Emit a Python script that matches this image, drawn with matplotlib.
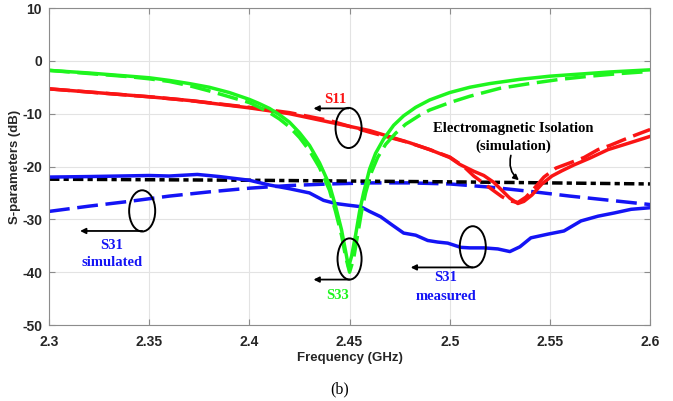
import numpy as np
import matplotlib
matplotlib.use("Agg")
from matplotlib import pyplot as plt
from matplotlib.patches import Ellipse

plt.rcParams['axes.unicode_minus'] = False

# S33 (green)
s33_meas_f = [2.30, 2.32, 2.34, 2.35, 2.36, 2.37, 2.38, 2.39, 2.40, 2.405, 2.41, 2.415, 2.42, 2.425, 2.43, 2.435, 2.44, 2.443, 2.446, 2.448, 2.4495, 2.451, 2.453, 2.455, 2.457, 2.46, 2.463, 2.467, 2.472, 2.477, 2.483, 2.49, 2.50, 2.51, 2.52, 2.535, 2.55, 2.565, 2.58, 2.59, 2.60]
s33_meas = [-1.8, -2.3, -2.9, -3.2, -3.7, -4.3, -5.0, -6.0, -7.3, -8.1, -9.0, -10.2, -11.6, -13.6, -16.0, -19.3, -23.5, -27.5, -32.0, -36.0, -39.0, -37.0, -33.0, -28.5, -25.0, -20.5, -17.5, -14.8, -12.2, -10.4, -8.8, -7.4, -6.0, -5.0, -4.3, -3.5, -2.9, -2.5, -2.1, -1.9, -1.7]
s33_sim_f = [2.30, 2.32, 2.34, 2.35, 2.36, 2.37, 2.38, 2.39, 2.40, 2.405, 2.41, 2.415, 2.42, 2.425, 2.43, 2.435, 2.44, 2.443, 2.446, 2.448, 2.450, 2.452, 2.454, 2.456, 2.458, 2.461, 2.464, 2.468, 2.473, 2.478, 2.485, 2.49, 2.50, 2.51, 2.525, 2.54, 2.555, 2.57, 2.585, 2.60]
s33_sim = [-1.8, -2.4, -3.0, -3.4, -3.9, -4.7, -5.7, -6.8, -7.9, -8.8, -9.8, -11.0, -12.5, -14.5, -17.0, -20.2, -24.5, -28.5, -33.0, -37.0, -40.0, -37.5, -33.0, -28.5, -25.0, -21.0, -18.3, -15.8, -13.7, -12.0, -10.3, -9.3, -7.9, -6.7, -5.2, -4.3, -3.5, -2.9, -2.4, -2.0]

# S11 (red)
s11_meas_f = [2.30, 2.33, 2.35, 2.37, 2.40, 2.42, 2.44, 2.46, 2.48, 2.49, 2.50, 2.505, 2.512, 2.517, 2.522, 2.526, 2.530, 2.534, 2.537, 2.541, 2.546, 2.551, 2.556, 2.562, 2.57, 2.579, 2.59, 2.60]
s11_meas = [-5.3, -6.2, -6.8, -7.5, -8.9, -10.0, -11.6, -13.2, -15.5, -16.8, -18.3, -19.6, -20.9, -21.7, -23.0, -24.5, -26.0, -27.0, -26.6, -25.4, -23.3, -21.8, -20.8, -19.7, -18.4, -16.8, -15.5, -14.3]
s11_sim_f = [2.30, 2.33, 2.35, 2.37, 2.40, 2.42, 2.44, 2.46, 2.479, 2.49, 2.50, 2.507, 2.512, 2.517, 2.522, 2.526, 2.530, 2.534, 2.538, 2.542, 2.547, 2.553, 2.56, 2.567, 2.574, 2.58, 2.587, 2.593, 2.60]
s11_sim = [-5.3, -6.2, -6.8, -7.5, -8.8, -9.8, -11.3, -13.5, -15.4, -16.8, -18.2, -20.0, -21.8, -23.2, -24.6, -25.7, -26.5, -26.8, -25.8, -24.2, -22.0, -20.3, -19.3, -18.3, -16.8, -16.0, -14.9, -14.0, -13.0]

# S31 (blue)
s31_meas_f = [2.30, 2.32, 2.335, 2.35, 2.36, 2.374, 2.385, 2.40, 2.41, 2.42, 2.43, 2.437, 2.443, 2.449, 2.4555, 2.46, 2.4655, 2.471, 2.477, 2.483, 2.489, 2.494, 2.499, 2.5055, 2.51, 2.517, 2.524, 2.530, 2.535, 2.5405, 2.549, 2.557, 2.5655, 2.574, 2.582, 2.5905, 2.60]
s31_meas = [-22.0, -21.9, -21.8, -21.7, -21.8, -21.5, -21.9, -22.6, -23.5, -24.2, -25.0, -26.4, -27.0, -27.3, -27.6, -28.5, -29.5, -31.0, -32.6, -33.0, -34.0, -34.3, -34.5, -35.3, -35.4, -35.4, -35.6, -36.1, -35.2, -33.5, -32.8, -32.2, -30.3, -29.4, -28.8, -28.1, -27.8]
s31_sim_f = [2.30, 2.32, 2.34, 2.36, 2.38, 2.40, 2.42, 2.44, 2.46, 2.48, 2.50, 2.52, 2.54, 2.56, 2.58, 2.60]
s31_sim = [-28.5, -27.5, -26.6, -25.6, -24.8, -24.1, -23.6, -23.3, -23.1, -23.1, -23.3, -23.9, -24.7, -25.6, -26.4, -27.2]

# electromagnetic isolation (black)
iso_f = [2.30, 2.40, 2.50, 2.60]
iso = [-22.4, -22.6, -22.9, -23.3]

green = "#1ef51e"
red = "#fa1414"
blue = "#1414f5"
lw = 2.5
dash = (0, (6.0, 2.2))
dashdot = (0, (3.0, 1.2, 1.5, 1.2))

fig = plt.figure(figsize=(6.73, 4.01), dpi=100)
ax = fig.add_axes([0.0728, 0.1895, 0.8932, 0.7905])

ax.plot(s31_sim_f, s31_sim, color=blue, lw=lw, linestyle=dash)
ax.plot(iso_f, iso, color="black", lw=lw, linestyle=dashdot)
ax.plot(s31_meas_f, s31_meas, color=blue, lw=lw, solid_joinstyle="round")
ax.plot(s11_sim_f, s11_sim, color=red, lw=lw, linestyle=dash)
ax.plot(s11_meas_f, s11_meas, color=red, lw=lw, solid_joinstyle="round")
ax.plot(s33_sim_f, s33_sim, color=green, lw=lw, linestyle=dash)
ax.plot(s33_meas_f, s33_meas, color=green, lw=lw, solid_joinstyle="round")

ax.set_xlim(2.3, 2.6)
ax.set_ylim(-50, 10)
ax.set_xticks([2.3, 2.35, 2.4, 2.45, 2.5, 2.55, 2.6])
ax.set_xticklabels(["2.3", "2.35", "2.4", "2.45", "2.5", "2.55", "2.6"])
ax.set_yticks([-50, -40, -30, -20, -10, 0, 10])
ax.grid(True, color="#e3e3e3", lw=0.8)
ax.set_axisbelow(True)
for s in ax.spines.values():
    s.set_color("#8c8c8c")
ax.tick_params(direction="in", length=4, color="#8c8c8c", labelsize=10,
               top=True, right=True)
ax.tick_params(axis="x", pad=7)
ax.tick_params(axis="y", pad=5)
for lab in ax.get_xticklabels() + ax.get_yticklabels():
    lab.set_fontweight("bold")
    lab.set_family("Liberation Sans")
    lab.set_color("#262626")
ax.set_xlabel("Frequency (GHz)", fontsize=9.5, fontweight="bold", family="Liberation Sans", color="#262626", labelpad=2)
ax.set_ylabel("S-parameters (dB)", fontsize=9.5, fontweight="bold", family="Liberation Sans", color="#262626", labelpad=1)

serif = dict(family="Liberation Serif", fontweight="bold", fontsize=10.5)

def marker(xc, yc, w, h, ytail, xhead):
    ax.add_patch(Ellipse((xc, yc), w, h, fill=False, ec="black", lw=1.4, zorder=5))
    ax.annotate("", xy=(xhead, ytail), xytext=(xc, ytail),
                arrowprops=dict(arrowstyle="-|>", color="black", lw=1.3,
                                mutation_scale=8, shrinkA=0, shrinkB=0), zorder=5)

marker(2.4495, -12.7, 0.013, 7.6, -9.0, 2.432)
ax.text(2.443, -7.3, "S11", color=red, ha="center", va="center", **serif)

marker(2.3465, -28.4, 0.013, 7.8, -32.2, 2.3155)
ax.text(2.3315, -35.0, "S31", color=blue, ha="center", va="center", **serif)
ax.text(2.3315, -38.2, "simulated", color=blue, ha="center", va="center", **serif)

marker(2.450, -37.5, 0.012, 7.8, -41.4, 2.432)
ax.text(2.444, -44.4, "S33", color=green, ha="center", va="center", **serif)

marker(2.5115, -35.2, 0.013, 7.8, -39.1, 2.4805)
ax.text(2.498, -41.0, "S31", color=blue, ha="center", va="center", **serif)
ax.text(2.498, -44.6, "measured", color=blue, ha="center", va="center", **serif)

ax.text(2.5315, -12.8, "Electromagnetic Isolation", color="black", ha="center", va="center", **serif)
ax.text(2.5315, -16.2, "(simulation)", color="black", ha="center", va="center", **serif)
ax.annotate("", xy=(2.5345, -22.6), xytext=(2.5305, -17.9),
            arrowprops=dict(arrowstyle="-|>", color="black", lw=1.2, mutation_scale=8,
                            shrinkA=0, shrinkB=0, connectionstyle="arc3,rad=0.3"), zorder=5)

fig.text(0.505, 0.028, "(b)", ha="center", va="center", family="Liberation Serif", fontsize=11.5)

fig.savefig("out.png", dpi=100)
